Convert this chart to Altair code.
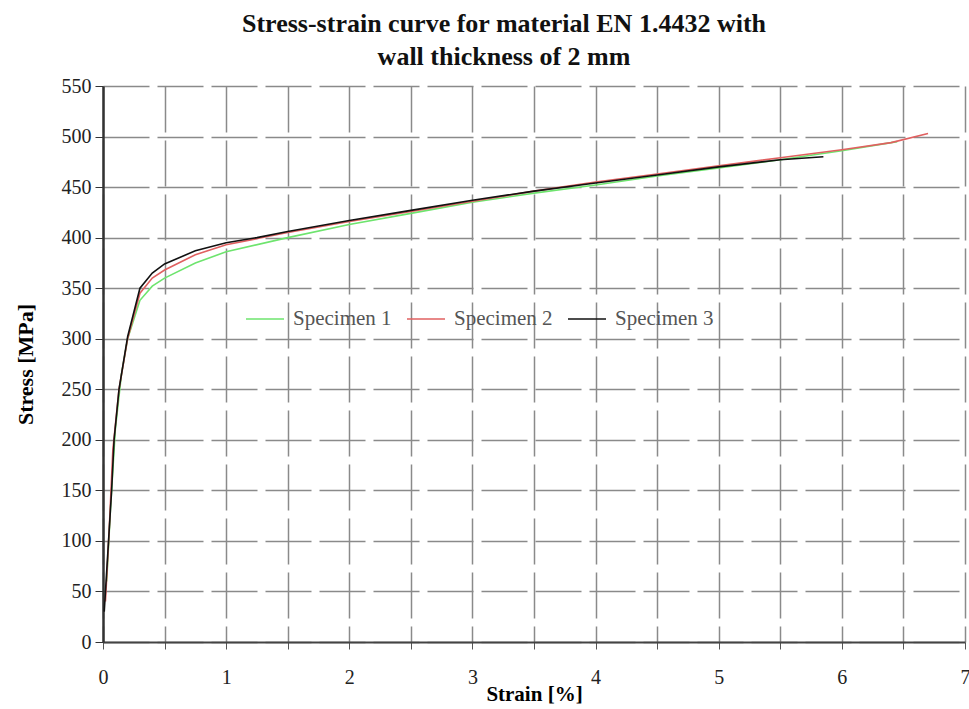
import altair as alt
import pandas as pd

series_names = ["Specimen 1", "Specimen 2", "Specimen 3"]
colors = ["#6ee46e", "#e06060", "#111111"]

s1_strain = [0.03, 0.06, 0.10, 0.15, 0.20, 0.30, 0.40, 0.50, 0.75, 1.0, 1.5, 2.0, 2.5, 3.0, 3.5, 4.0, 4.5, 5.0, 5.5, 6.0, 6.45]
s1_stress = [60, 130, 210, 265, 300, 338, 352, 360, 375, 386, 400, 413, 424, 435, 444, 452, 461, 469, 477, 486, 495]

s2_strain = [0.02, 0.05, 0.08, 0.13, 0.20, 0.30, 0.40, 0.50, 0.75, 1.0, 1.5, 2.0, 2.5, 3.0, 3.5, 4.0, 4.5, 5.0, 5.5, 6.0, 6.4, 6.7]
s2_stress = [40, 110, 190, 250, 300, 345, 360, 368, 383, 393, 405, 416, 426, 436, 446, 455, 463, 471, 479, 487, 494, 503]

s3_strain = [0.01, 0.04, 0.07, 0.09, 0.13, 0.20, 0.30, 0.40, 0.50, 0.75, 1.0, 1.25, 1.5, 2.0, 2.5, 3.0, 3.5, 4.0, 4.5, 5.0, 5.5, 5.85]
s3_stress = [30, 90, 150, 200, 250, 302, 350, 365, 374, 387, 395, 400, 406, 417, 427, 437, 446, 454, 462, 470, 477, 480]

x_ticks = [i * 0.5 for i in range(15)]
y_ticks = list(range(0, 551, 50))

rows = []
for name, xs, ys in zip(series_names, [s1_strain, s2_strain, s3_strain], [s1_stress, s2_stress, s3_stress]):
    for i, (xv, yv) in enumerate(zip(xs, ys)):
        rows.append({"series": name, "strain": xv, "stress": yv, "order": i})
df = pd.DataFrame(rows)

FONT = "Liberation Serif"

chart = alt.Chart(df).mark_line(strokeWidth=1.6).encode(
    x=alt.X("strain:Q",
            scale=alt.Scale(domain=[0, 7], nice=False),
            axis=alt.Axis(values=x_ticks,
                          labelExpr="datum.value % 1 == 0 ? format(datum.value, 'd') : ''",
                          title="Strain [%]", titleFontSize=21, titleFont=FONT, titleFontWeight="bold",
                          titleY=58, titleBaseline="alphabetic",
                          labelFont=FONT, labelFontSize=20, labelColor="#222", labelPadding=18,
                          tickSize=7, tickColor="#555", labelFlush=False,
                          gridColor="#8a8a8a", gridWidth=1.5, gridDash=[46, 8], gridOpacity=1,
                          domainColor="#444", domainWidth=2)),
    y=alt.Y("stress:Q",
            scale=alt.Scale(domain=[0, 550], nice=False),
            axis=alt.Axis(values=y_ticks, title="Stress [MPa]", titleFontSize=22, titleFont=FONT,
                          titleFontWeight="bold", titleAngle=-90, titleAlign="center",
                          titleBaseline="middle", titleX=-78, titleY=278,
                          labelFont=FONT, labelFontSize=20, labelColor="#222", labelPadding=4,
                          tickSize=8, tickColor="#333",
                          gridColor="#8a8a8a", gridWidth=1.5, gridDash=[46, 8], gridOpacity=1,
                          domainColor="#333", domainWidth=2.5)),
    color=alt.Color("series:N",
                    scale=alt.Scale(domain=series_names, range=colors),
                    legend=alt.Legend(title=None, orient="none", legendX=142, legendY=213,
                                      direction="horizontal", symbolType="stroke",
                                      symbolSize=1444, symbolStrokeWidth=1.5,
                                      labelFont=FONT, labelFontSize=21, labelColor="#555",
                                      labelOffset=8, columnPadding=12, padding=0)),
    order="order:Q",
).properties(
    width=862, height=556,
    background="white",
    title=alt.TitleParams(text=["Stress-strain curve for material EN 1.4432 with", "wall thickness of 2 mm"],
                          font=FONT, fontSize=26, fontWeight="bold", lineHeight=33,
                          anchor="middle", dx=-30, offset=6, color="#111"),
    autosize=alt.AutoSizeParams(type="none"),
    padding={"left": 103, "top": 86, "right": 4, "bottom": 67},
).configure_view(stroke=None)

chart.save("out.html", embed_options={"renderer": "svg", "actions": False})
